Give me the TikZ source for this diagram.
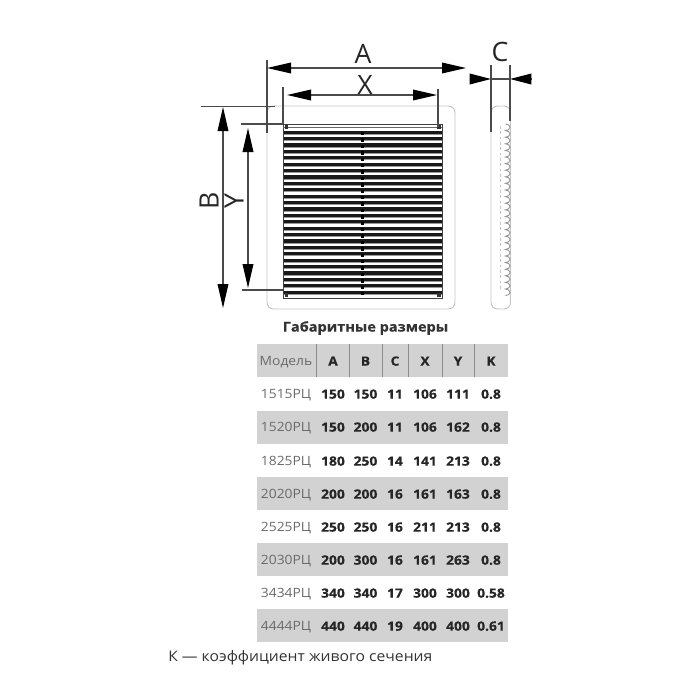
\documentclass[tikz,border=0pt]{standalone}
\usepackage{fontspec}
\setmainfont[FakeStretch=1.08,BoldFeatures={FakeBold=0.35}]{Open Sans}
\newfontfamily\dimfont{Open Sans}
\usetikzlibrary{arrows.meta}
\definecolor{rowgrey}{HTML}{D2D2D2}
\definecolor{lineblack}{HTML}{4A4A4A}
\definecolor{framegrey}{HTML}{C4C4C4}
\definecolor{textgrey}{HTML}{6A6A6A}
\tikzset{
  dimline/.style={draw=lineblack,line width=0.9pt},
  dimarrow/.style={dimline,-{Triangle[length=18pt,width=8pt,color=black]}},
  shortarrow/.style={dimline,-{Triangle[length=16pt,width=8pt,color=black]}},
  dimletter/.style={font=\dimfont\fontsize{20}{20}\selectfont,text=black!85,inner sep=0pt},
  headcell/.style={font=\fontsize{9.6}{10}\selectfont\bfseries,text=black!85,inner sep=0pt,text height=7pt,text depth=0pt},
  valcell/.style={font=\fontsize{9.6}{10}\selectfont\bfseries,text=black!85,inner sep=0pt,text height=7pt,text depth=0pt},
  modelcell/.style={font=\fontsize{9.6}{10}\selectfont,text=textgrey,inner sep=0pt,text height=7pt,text depth=0pt},
  frameline/.style={draw=framegrey,line width=0.7pt,rounded corners=5pt},
}
\begin{document}
\begin{tikzpicture}[x=0.75pt,y=-0.75pt]
\useasboundingbox (0,0) rectangle (700,700);
% front frame and side view
\draw[frameline] (267,106) rectangle (455,309);
\draw[frameline] (491,106) rectangle (510.5,309);
\draw[draw=framegrey,line width=0.7pt,dash pattern=on 2pt off 2pt] (500,126) -- (500,291);
% scalloped edge of the side view
\draw[draw=black!40,line width=0.7pt] (505.5,124)
  \foreach \i in {1,...,26} { arc[start angle=-90,end angle=90,x radius=4.5,y radius=3.3] };
% slats
\foreach \i in {0,...,25} {
  \fill[black!90] (283,{130.5+6.4*\i}) rectangle (442,{130.5+6.4*\i+3.2});
  \fill[black!40] (283,{133.7+6.4*\i}) rectangle (442,{133.7+6.4*\i+1.1});
  \fill[black] (361.3,{132+6.4*\i}) rectangle (363.6,{132+6.4*\i+3.4});
}
\draw[black!75,line width=0.7pt] (283,124) rectangle (442,298);
\draw[black!60,line width=0.5pt] (283,127) -- (442,127);
\fill[black!80] (285,125) rectangle (288,129);
\fill[black!80] (437,125) rectangle (441,129);
\fill[black!80] (285,293) rectangle (288,297);
\fill[black!80] (437,293) rectangle (441,297);
% extension lines
\draw[dimline] (267,60) -- (267,133);
\draw[dimline] (283,87) -- (283,124);
\draw[dimline] (438,89) -- (438,127);
\draw[dimline] (491,65) -- (491,132);
\draw[dimline] (510,65) -- (510,121);
\draw[dimline] (201,106.5) -- (275,106.5);
\draw[dimline] (241,124) -- (283,124);
\draw[dimline] (242,290) -- (283,290);
% dimension lines
\coordinate (al) at (267,68);
\coordinate (ar) at (466,68);
\coordinate (am) at (365,68);
\coordinate (xl) at (287,95);
\coordinate (xr) at (437,95);
\coordinate (xm) at (362,95);
\coordinate (bt) at (223,107);
\coordinate (bb) at (223,308);
\coordinate (bm) at (223,207);
\coordinate (yt) at (248,128);
\coordinate (yb) at (248,288);
\coordinate (ym) at (248,207);
\coordinate (cl) at (491,79);
\coordinate (cr) at (510,79);
\coordinate (cll) at (469.7,79);
\coordinate (crr) at (531.3,79);
\draw[dimarrow] (am) -- (al);
\draw[dimarrow] (am) -- (ar);
\draw[dimarrow] (xm) -- (xl);
\draw[dimarrow] (xm) -- (xr);
\draw[dimarrow] (bm) -- (bt);
\draw[dimarrow] (bm) -- (bb);
\draw[dimarrow] (ym) -- (yt);
\draw[dimarrow] (ym) -- (yb);
\draw[shortarrow] (cll) -- (cl);
\draw[shortarrow] (crr) -- (cr);
\draw[dimline] (cl) -- (cr);
\node[dimletter] (la) at (363,54) {A};
\node[dimletter] (lx) at (365,85) {X};
\node[dimletter] (lc) at (500,52) {C};
\node[dimletter,rotate=90] (lb) at (209,201) {B};
\node[dimletter,rotate=90] (ly) at (234,201) {Y};
% table
\node[font=\fontsize{10.1}{11}\selectfont\bfseries,text=black!80,inner sep=0pt] (title) at (365.5,328) {Габаритные размеры};
\foreach \top in {344,411,477,543,609} {
  \fill[rowgrey] (257,\top) rectangle (508,\top+33);
}
\foreach \sepx in {316,349,382,408,442,474} {
  \draw[draw=black!45,line width=0.6pt] (\sepx,344) -- (\sepx,377);
}
\node[modelcell] (head0) at (286,361) {Модель};
\foreach \name/\colx/\txt in {h1/333/A,h2/365.5/B,h3/395/C,h4/425/X,h5/458/Y,h6/491/K} {
  \node[headcell] (\name) at (\colx,361) {\txt};
}
\foreach \rowy/\mdl/\a/\b/\c/\xx/\yy/\k in {
  394/1515РЦ/150/150/11/106/111/0.8,
  427/1520РЦ/150/200/11/106/162/0.8,
  461/1825РЦ/180/250/14/141/213/0.8,
  494/2020РЦ/200/200/16/161/163/0.8,
  527/2525РЦ/250/250/16/211/213/0.8,
  560/2030РЦ/200/300/16/161/263/0.8,
  593/3434РЦ/340/340/17/300/300/0.58,
  626/4444РЦ/440/440/19/400/400/0.61} {
  \node[modelcell] (m\rowy) at (286,\rowy) {\mdl};
  \node[valcell] (a\rowy) at (333,\rowy) {\a};
  \node[valcell] (b\rowy) at (365.5,\rowy) {\b};
  \node[valcell] (c\rowy) at (395,\rowy) {\c};
  \node[valcell] (x\rowy) at (425,\rowy) {\xx};
  \node[valcell] (y\rowy) at (458,\rowy) {\yy};
  \node[valcell] (k\rowy) at (491,\rowy) {\k};
}
\node[font=\fontsize{10.9}{11}\selectfont,text=black!80,anchor=west,inner sep=0pt] (note) at (168,658) {К — коэффициент живого сечения};
\end{tikzpicture}
\end{document}
